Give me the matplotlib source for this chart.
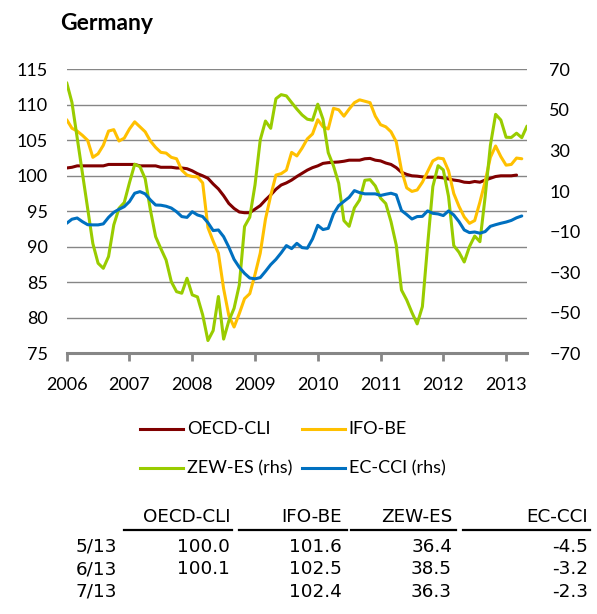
import matplotlib
matplotlib.use('Agg')
import matplotlib.pyplot as plt
import pandas as pd
from matplotlib.lines import Line2D

plt.rcParams['font.family'] = ['Lato', 'DejaVu Sans']

# monthly data, Apr 2006 .. Aug 2013
months = pd.date_range('2006-04-01', periods=89, freq='MS')

oecd_cli = [101.1, 101.2, 101.4, 101.4, 101.4, 101.4, 101.4, 101.4, 101.6, 101.6, 101.6, 101.6,
            101.6, 101.6, 101.4, 101.4, 101.4, 101.4, 101.2, 101.2, 101.2, 101.1, 101.1, 101.0,
            100.7, 100.3, 100.0, 99.65, 98.85, 98.15, 97.2, 96.1, 95.4, 94.9, 94.8, 94.8,
            95.3, 95.8, 96.6, 97.3, 98.1, 98.7, 99.0, 99.4, 99.9, 100.35, 100.8, 101.15,
            101.4, 101.75, 101.85, 101.9, 101.95, 102.05, 102.2, 102.2, 102.2, 102.4, 102.45, 102.2,
            102.1, 101.8, 101.6, 101.15, 100.5, 100.2, 100.0, 99.95, 99.85, 99.8, 99.8, 99.8,
            99.7, 99.55, 99.4, 99.3, 99.1, 99.05, 99.2, 99.1, 99.4, 99.65, 99.9, 100.0,
            100.0, 100.0, 100.1]

ifo_be = [107.9, 106.7, 106.3, 105.7, 105.0, 102.6, 103.1, 104.3, 106.3, 106.5, 104.9, 105.3,
          106.6, 107.6, 106.9, 106.2, 104.9, 104.0, 103.3, 103.2, 102.6, 102.4, 100.8, 100.1,
          99.9, 99.85, 99.0, 92.7, 90.8, 89.1, 84.1, 80.3, 78.7, 80.6, 82.7, 83.4,
          86.1, 89.1, 93.9, 97.2, 100.1, 100.3, 100.8, 103.3, 102.8, 103.9, 105.2, 105.9,
          107.9, 106.9, 106.6, 109.5, 109.3, 108.4, 109.4, 110.3, 110.7, 110.5, 110.3, 108.4,
          107.2, 106.9, 106.2, 104.8, 100.8, 98.3, 97.8, 98.0, 99.1, 100.6, 102.1, 102.5,
          102.4, 100.7, 97.5, 95.7, 94.2, 93.3, 93.7, 96.3, 99.2, 102.6, 104.2, 102.7,
          101.5, 101.6, 102.5, 102.4]

zew_es = [63.4, 53.7, 36.3, 18.9, 1.5, -15.9, -25.6, -28.1, -22.3, -6.7, 1.5, 4.3,
          14.1, 23.2, 22.0, 16.1, 0.7, -12.5, -18.4, -24.0, -34.7, -39.6, -40.4, -33.0,
          -41.2, -42.2, -51.1, -63.7, -58.8, -42.0, -63.0, -54.0, -47.8, -36.3, -7.5, -2.9,
          13.0, 35.2, 44.5, 40.9, 55.5, 57.5, 56.9, 53.6, 50.4, 47.5, 45.4, 44.9,
          52.8, 45.4, 28.9, 22.4, 13.8, -4.6, -7.4, 1.7, 5.6, 15.3, 15.6, 12.5,
          6.5, 3.8, -5.1, -16.6, -38.8, -43.7, -49.9, -55.5, -47.0, -16.6, 12.2, 22.5,
          20.4, 7.3, -16.9, -20.2, -25.0, -17.4, -12.2, -15.0, 7.2, 32.5, 47.8, 45.0,
          36.5, 36.4, 38.5, 36.3, 42.0]

ec_cci = [-5.9, -3.9, -3.3, -5.1, -6.6, -6.7, -6.7, -6.2, -3.0, -0.5, 1.0, 2.3,
          4.8, 8.9, 9.7, 8.6, 5.6, 3.1, 3.0, 2.5, 1.6, -0.2, -2.6, -3.0,
          -0.2, -1.8, -2.6, -5.6, -9.5, -9.2, -12.5, -17.7, -23.7, -27.6, -30.6, -32.9,
          -33.3, -32.7, -29.6, -26.3, -23.7, -20.5, -16.9, -18.4, -15.8, -17.9, -18.2, -13.6,
          -6.9, -9.0, -8.4, -1.3, 2.8, 4.9, 6.9, 10.2, 9.2, 8.6, 8.6, 8.6,
          7.8, 8.4, 8.9, 8.1, 0.4, -1.6, -3.8, -2.6, -2.5, 0.2, -1.0, -1.3,
          -2.1, 0.2, -1.8, -5.1, -9.2, -10.5, -10.2, -10.8, -10.0, -7.4, -6.6, -5.9,
          -5.3, -4.5, -3.2, -2.3]

year_labels = ['2006', '2007', '2008', '2009', '2010', '2011', '2012', '2013']
left_ticks = [75, 80, 85, 90, 95, 100, 105, 110, 115]
right_ticks = [-70, -50, -30, -10, 10, 30, 50, 70]

left_series = [('OECD-CLI', oecd_cli, '#800000'), ('IFO-BE', ifo_be, '#FFC000')]
right_series = [('ZEW-ES (rhs)', zew_es, '#99CC00'), ('EC-CCI (rhs)', ec_cci, '#0070C0')]
table_names = ['OECD-CLI', 'IFO-BE', 'ZEW-ES', 'EC-CCI']

W, H = 597, 614
GRID = '#868686'


def fx(px):
    return px / W


def fy(py):
    return 1 - py / H


fig = plt.figure(figsize=(W / 100, H / 100), dpi=100)
ax = fig.add_axes([fx(66.7), fy(353.3), fx(527) - fx(66.7), fy(69.3) - fy(353.3)])
ax2 = ax.twinx()

for name, vals, col in left_series:
    ax.plot(range(len(vals)), vals, color=col, lw=2.2, solid_capstyle='round')
for name, vals, col in right_series:
    ax2.plot(range(len(vals)), vals, color=col, lw=2.2, solid_capstyle='round')

ax.set_xlim(0, len(months) - 1)
ax.set_ylim(75, 115)
ax2.set_ylim(-70, 70)
ax.set_yticks(left_ticks)
ax2.set_yticks(right_ticks)
ax.set_xticks(range(0, 12 * len(year_labels), 12))
ax.set_xticklabels(year_labels)

ax.yaxis.grid(True, color=GRID, lw=1.0)
ax.set_axisbelow(True)
for a in (ax, ax2):
    for s in ('top', 'left', 'right', 'bottom'):
        a.spines[s].set_visible(False)
ax.spines['bottom'].set_visible(True)
ax.spines['bottom'].set_color(GRID)
ax.spines['bottom'].set_linewidth(2.2)

ax.tick_params(axis='x', length=6, width=2, color=GRID, pad=11, labelsize=13)
ax.tick_params(axis='y', length=0, pad=13.5, labelsize=13)
ax2.tick_params(axis='y', length=0, pad=16, labelsize=13)

fig.text(fx(60), fy(23), 'Germany', fontsize=16.5, fontweight='bold', va='center', ha='left')

# legend, drawn by hand to hit the layout
legend_pos = [(140, 429), (301.7, 429), (140, 468.3), (301.7, 468.3)]
for (name, vals, col), (lx, ly) in zip(left_series + right_series, legend_pos):
    fig.add_artist(Line2D([fx(lx), fx(lx + 43)], [fy(ly), fy(ly)], color=col, lw=2.2,
                          transform=fig.transFigure))
    fig.text(fx(lx + 47), fy(ly), name, fontsize=13, va='center', ha='left')

# table of the latest values
col_right = [230, 342, 452, 588]
rule_spans = [(124, 232), (239, 347), (351, 456), (463, 590)]
tfont = dict(family='DejaVu Sans', fontsize=13.2, va='center')
for name, xr, (x0, x1) in zip(table_names, col_right, rule_spans):
    fig.text(fx(xr), fy(517.5), name, ha='right', **tfont)
    fig.add_artist(Line2D([fx(x0), fx(x1)], [fy(529.6), fy(529.6)], color='black', lw=1.6,
                          transform=fig.transFigure))

all_series = [oecd_cli, ifo_be, zew_es, ec_cci]
row_y = [546.8, 569.2, 591.6]
for k, ry in enumerate(row_y):
    idx = 85 + k
    m = months[idx]
    fig.text(fx(75.5), fy(ry), f'{m.month}/{m.strftime("%y")}', ha='left', **tfont)
    for vals, xr in zip(all_series, col_right):
        if idx < len(vals):
            fig.text(fx(xr), fy(ry), f'{vals[idx]:.1f}', ha='right', **tfont)

fig.savefig('out.png', dpi=100)
